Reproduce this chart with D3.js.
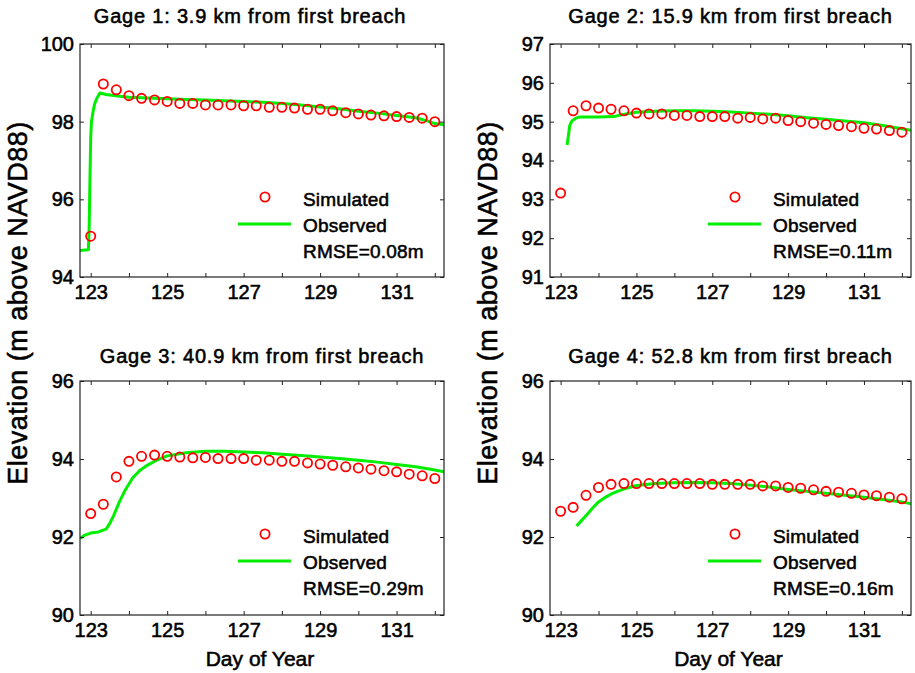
<!DOCTYPE html>
<html>
<head>
<meta charset="utf-8">
<script src="https://cdn.jsdelivr.net/npm/d3@7"></script>
<style>
    body { margin: 0; background: #fff; }
    text { font-family: Arial, 'Liberation Sans', sans-serif; fill: #000; stroke: #000; stroke-width: 0.55px; }
</style>
</head>
<body>
<svg id="chart" width="915" height="673"></svg>
<script>
// sampling times of the simulated series (every 8 hours)
let simDays = [123, 123.33, 123.67, 124, 124.33, 124.67, 125, 125.33, 125.67, 126, 126.33, 126.67,
    127, 127.33, 127.67, 128, 128.33, 128.67, 129, 129.33, 129.67, 130, 130.33, 130.67,
    131, 131.33, 131.67, 132]

let gageTitles = ['Gage 1: 3.9 km from first breach', 'Gage 2: 15.9 km from first breach',
    'Gage 3: 40.9 km from first breach', 'Gage 4: 52.8 km from first breach']
let rmseLabels = ['RMSE=0.08m', 'RMSE=0.11m', 'RMSE=0.29m', 'RMSE=0.16m']

let sim1 = [95.05, 98.97, 98.82, 98.67, 98.60, 98.56, 98.52, 98.47, 98.47, 98.43, 98.43, 98.43,
    98.41, 98.41, 98.37, 98.37, 98.35, 98.32, 98.32, 98.28, 98.23, 98.20, 98.17, 98.15,
    98.13, 98.11, 98.09, 98.00]
let sim2 = [93.16, 95.28, 95.41, 95.35, 95.32, 95.28, 95.22, 95.20, 95.20, 95.16, 95.16, 95.13,
    95.13, 95.13, 95.09, 95.11, 95.07, 95.09, 95.03, 95.00, 94.96, 94.93, 94.90, 94.87,
    94.83, 94.81, 94.77, 94.73]
let sim3 = [92.60, 92.84, 93.54, 93.94, 94.07, 94.10, 94.07, 94.05, 94.03, 94.04, 94.01, 94.01,
    94.01, 93.97, 93.97, 93.94, 93.94, 93.90, 93.87, 93.84, 93.80, 93.77, 93.74, 93.70,
    93.67, 93.61, 93.57, 93.50]
let sim4 = [92.66, 92.76, 93.07, 93.27, 93.35, 93.37, 93.37, 93.37, 93.37, 93.37, 93.37, 93.37,
    93.35, 93.35, 93.35, 93.35, 93.31, 93.31, 93.27, 93.25, 93.21, 93.17, 93.15, 93.12,
    93.08, 93.06, 93.02, 92.98]

// observed gage records [day, elevation]
let obs1 = [[122.72, 94.68], [122.94, 94.70], [122.96, 95.3], [122.98, 96.5], [123.0, 97.6], [123.02, 98.0],
    [123.06, 98.25], [123.1, 98.45], [123.16, 98.6], [123.24, 98.74], [123.4, 98.70], [123.7, 98.66],
    [124, 98.63], [124.5, 98.61], [125, 98.59], [125.5, 98.57], [126, 98.56], [126.5, 98.54], [127, 98.52],
    [127.5, 98.50], [128, 98.47], [128.5, 98.43], [129, 98.38], [129.5, 98.33], [130, 98.27], [130.5, 98.22],
    [131, 98.16], [131.5, 98.10], [131.8, 98.02], [132, 97.95], [132.24, 97.92]]
let obs2 = [[123.17, 94.40], [123.2, 94.6], [123.24, 94.9], [123.3, 95.02], [123.4, 95.09], [123.5, 95.12],
    [124.0, 95.12], [124.4, 95.13], [124.6, 95.18], [125.0, 95.24], [125.5, 95.27], [126, 95.28],
    [126.5, 95.28], [127, 95.27], [127.5, 95.25], [128, 95.22], [128.5, 95.19], [129, 95.15], [129.5, 95.10],
    [130, 95.06], [130.5, 95.02], [131, 94.97], [131.5, 94.90], [132, 94.82], [132.25, 94.78]]
let obs3 = [[122.72, 91.96], [122.85, 92.05], [123.0, 92.10], [123.2, 92.13], [123.4, 92.2], [123.5, 92.35],
    [123.6, 92.55], [123.75, 92.9], [123.9, 93.2], [124.1, 93.52], [124.3, 93.72], [124.5, 93.85],
    [124.75, 93.98], [125.0, 94.08], [125.5, 94.16], [126, 94.20], [126.5, 94.20], [127, 94.18],
    [127.5, 94.16], [128, 94.12], [128.5, 94.09], [129, 94.05], [129.5, 94.01], [130, 93.97], [130.5, 93.92],
    [131, 93.86], [131.5, 93.80], [132, 93.72], [132.24, 93.67]]
let obs4 = [[123.42, 92.28], [123.55, 92.42], [123.68, 92.56], [123.85, 92.75], [124.0, 92.90], [124.2, 93.03],
    [124.35, 93.11], [124.5, 93.17], [124.7, 93.24], [125.0, 93.32], [125.5, 93.37], [126, 93.39],
    [126.5, 93.40], [127, 93.39], [127.5, 93.37], [128, 93.33], [128.5, 93.28], [129, 93.22], [129.5, 93.17],
    [130, 93.12], [130.5, 93.07], [131, 93.02], [131.5, 92.96], [132, 92.90], [132.24, 92.85]]

let xDomain = [122.72, 132.24]
let xTicks = [123, 124, 125, 126, 127, 128, 129, 130, 131, 132]
let yDomains = [[94, 100], [91, 97], [90, 96], [90, 96]]
let yTicks = [[94, 96, 98, 100], [91, 92, 93, 94, 95, 96, 97], [90, 92, 94, 96], [90, 92, 94, 96]]

let simulated = [sim1, sim2, sim3, sim4]
let observed = [obs1, obs2, obs3, obs4]

// panel boxes in pixels
let panels = [
    {left: 80, top: 44, width: 364, height: 233, titleY: 23, titleDx: -12},
    {left: 550, top: 44, width: 361, height: 233, titleY: 23, titleDx: 0},
    {left: 80, top: 381, width: 364, height: 234, titleY: 363, titleDx: 0},
    {left: 550, top: 381, width: 361, height: 234, titleY: 363, titleDx: 0}
]

let green = '#00ee00'
let red = '#ff0000'
let svg = d3.select('#chart')

panels.forEach((p, i) => {
    let x = d3.scaleLinear().domain(xDomain).range([0, p.width])
    let y = d3.scaleLinear().domain(yDomains[i]).range([p.height, 0])
    let g = svg.append('g').attr('transform', `translate(${p.left}, ${p.top})`)

    g.append('clipPath').attr('id', 'clip' + i)
        .append('rect').attr('width', p.width).attr('height', p.height)

    let plot = g.append('g').attr('clip-path', `url(#clip${i})`)

    plot.append('path')
        .datum(observed[i])
        .attr('d', d3.line().x(d => x(d[0])).y(d => y(d[1])))
        .attr('fill', 'none')
        .attr('stroke', green)
        .attr('stroke-width', 3)
        .attr('stroke-linejoin', 'round')

    plot.selectAll('circle')
        .data(simulated[i])
        .join('circle')
        .attr('cx', (d, j) => x(simDays[j]))
        .attr('cy', d => y(d))
        .attr('r', 4.6)
        .attr('fill', 'none')
        .attr('stroke', red)
        .attr('stroke-width', 1.8)

    // inward ticks on all four sides
    let bottom = g.append('g').attr('transform', `translate(0, ${p.height})`)
        .call(d3.axisBottom(x).tickValues(xTicks).tickSize(-4).tickPadding(8)
            .tickFormat(d => d % 2 ? d : ''))
    let top = g.append('g')
        .call(d3.axisTop(x).tickValues(xTicks).tickSize(-4).tickFormat(''))
    let left = g.append('g')
        .call(d3.axisLeft(y).tickValues(yTicks[i]).tickSize(-4).tickPadding(6).tickFormat(d3.format('d')))
    let right = g.append('g').attr('transform', `translate(${p.width}, 0)`)
        .call(d3.axisRight(y).tickValues(yTicks[i]).tickSize(-4).tickFormat(''))

    ;[bottom, top, left, right].forEach(a => {
        a.select('.domain').remove()
        a.selectAll('line').attr('stroke', '#222')
        a.selectAll('text').style('font-size', '20px').attr('fill', '#000')
            .style('font-family', "Arial, 'Liberation Sans', sans-serif")
    })

    g.append('rect')
        .attr('width', p.width).attr('height', p.height)
        .attr('fill', 'none').attr('stroke', '#222').attr('stroke-width', 1.2)

    svg.append('text')
        .attr('x', p.left + p.width / 2 + p.titleDx)
        .attr('y', p.titleY)
        .attr('text-anchor', 'middle')
        .style('font-size', '20px')
        .style('letter-spacing', '0.8px')
        .text(gageTitles[i])

    // legend
    let lg = g.append('g')
    lg.append('circle').attr('cx', 185).attr('cy', 153).attr('r', 4.6)
        .attr('fill', 'none').attr('stroke', red).attr('stroke-width', 1.8)
    lg.append('line').attr('x1', 158).attr('x2', 211).attr('y1', 180).attr('y2', 180)
        .attr('stroke', green).attr('stroke-width', 3)
    lg.selectAll('text.leg')
        .data(['Simulated', 'Observed', rmseLabels[i]])
        .join('text')
        .attr('class', 'leg')
        .attr('x', 223)
        .attr('y', (d, j) => 161.7 + j * 25.9)
        .style('font-size', '19px')
        .style('letter-spacing', '0.2px')
        .text(d => d)

    if (i >= 2) {
        svg.append('text')
            .attr('x', p.left + p.width / 2 - 2)
            .attr('y', p.top + p.height + 51)
            .attr('text-anchor', 'middle')
            .style('font-size', '21px')
            .text('Day of Year')
    }
})

// shared y labels, one per column
;[27, 497].forEach(lx => {
    svg.append('text')
        .attr('transform', `translate(${lx}, 303) rotate(-90)`)
        .attr('text-anchor', 'middle')
        .style('font-size', '27px')
        .style('letter-spacing', '0.5px')
        .text('Elevation (m above NAVD88)')
})
</script>
</body>
</html>
